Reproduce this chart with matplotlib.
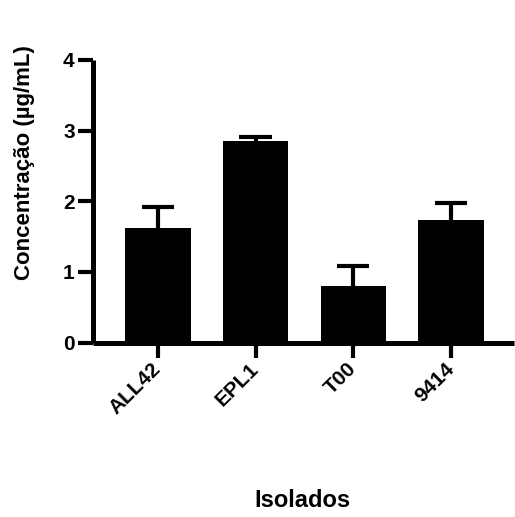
import matplotlib
matplotlib.use("Agg")
import matplotlib.pyplot as plt
import matplotlib.transforms as mtransforms
import numpy as np

categories = ["ALL42", "EPL1", "T00", "9414"]
means = [1.62, 2.85, 0.80, 1.73]
errors = [0.30, 0.06, 0.29, 0.24]
yticks = [0, 1, 2, 3, 4]

plt.rcParams['font.family'] = ['Liberation Sans', 'DejaVu Sans']
plt.rcParams['font.weight'] = 'bold'

fig = plt.figure(figsize=(5.15, 5.17), dpi=100)
ax = fig.add_axes([0.180, 0.3375, 0.818, 0.5465])

x = np.arange(len(categories))
m = np.array(means)
e = np.array(errors)
bar_w = 0.67
cap_half = 0.165
ax.bar(x, m, width=bar_w, color='black', edgecolor='none', zorder=2)
ax.vlines(x, m, m + e, colors='black', linewidth=3.0, zorder=1)
ax.hlines(m + e, x - cap_half, x + cap_half, colors='black', linewidth=3.0, zorder=1)

ax.set_xlim(-0.666, 3.643)
ax.set_ylim(0, 4)
ax.set_yticks(yticks)
ax.set_yticklabels([str(t) for t in yticks], fontsize=15, fontweight='bold')
ax.set_xticks(x)
ax.set_xticklabels(categories, fontsize=15, fontweight='bold', rotation=45,
                   ha='right', va='center', rotation_mode='anchor')
offset = mtransforms.ScaledTranslation(6/72, -4/72, fig.dpi_scale_trans)
for lab in ax.get_xticklabels():
    lab.set_transform(lab.get_transform() + offset)

for s in ['top', 'right']:
    ax.spines[s].set_visible(False)
for s in ['left', 'bottom']:
    ax.spines[s].set_linewidth(3.6)
    ax.spines[s].set_capstyle('butt')
ax.tick_params(axis='both', direction='out', length=11, width=3.0, pad=2)
ax.tick_params(axis='x', pad=6)

fig.text(0.047, 0.685, "Concentração (µg/mL)", rotation=90, fontsize=16,
         fontweight='bold', ha='center', va='center')
fig.text(0.587, 0.032, "Isolados", fontsize=17, fontweight='bold',
         ha='center', va='center')

fig.savefig("out.png", dpi=100)
